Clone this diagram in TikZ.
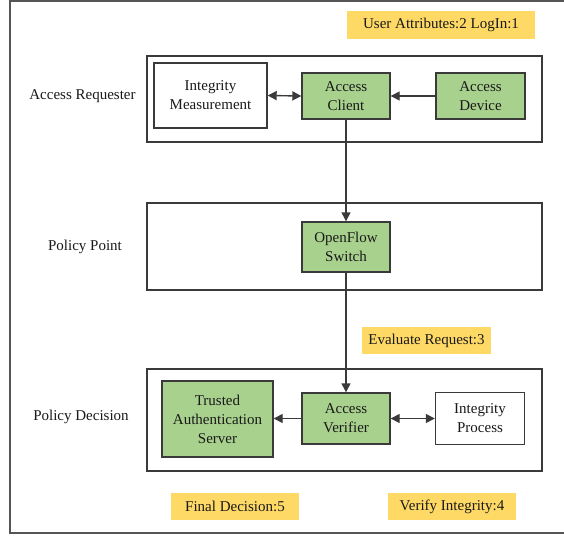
\documentclass[tikz,border=0pt]{standalone}
\usepackage{fontspec}
\setmainfont{Liberation Serif}
\usetikzlibrary{arrows.meta}
\definecolor{boxgreen}{HTML}{A9D18E}
\definecolor{noteyellow}{HTML}{FFD966}
\definecolor{edgegray}{HTML}{3A3A3A}
\definecolor{framegray}{HTML}{555555}
\begin{document}
\begin{tikzpicture}[x=1pt,y=-1pt,
  font=\fontsize{15}{19}\selectfont,
  panel/.style={draw=edgegray, line width=1.4pt, inner sep=0pt},
  unit/.style={draw=edgegray, line width=1.4pt, align=center, inner sep=0pt, text=black!90},
  greenunit/.style={unit, fill=boxgreen},
  note/.style={fill=noteyellow, inner sep=0pt, align=center, text=black!90},
  conn/.style={draw=edgegray, line width=1.4pt, -{Triangle[length=9pt,width=9pt]}},
  biconn/.style={draw=edgegray, line width=1.4pt, {Triangle[length=9pt,width=9pt]}-{Triangle[length=9pt,width=9pt]}},
  lbl/.style={inner sep=0pt, text=black!90}]
\useasboundingbox (0,0) rectangle (564,535);
\fill[white] (0,0) rectangle (564,535);
% outer frame
\draw[framegray, line width=2pt] (566,1.5) -- (10,1.5) -- (10,532.5) -- (566,532.5);

% panels
\node[panel, minimum width=395pt, minimum height=86pt] (reqpanel) at (344.5,99) {};
\node[panel, minimum width=395pt, minimum height=87pt] (pppanel) at (344.5,246.5) {};
\node[panel, minimum width=395pt, minimum height=102pt] (pdpanel) at (344.5,420) {};

% side labels
\node[lbl] (lreq) at (82.5,96) {Access Requester};
\node[lbl] (lpp) at (85,247) {Policy Point};
\node[lbl] (lpd) at (81,417) {Policy Decision};

% units
\node[unit, minimum width=113pt, minimum height=65pt] (im) at (210.5,95.5) {Integrity\\Measurement};
\node[greenunit, minimum width=88pt, minimum height=46pt] (ac) at (346,96) {Access\\Client};
\node[greenunit, minimum width=89pt, minimum height=46pt] (ad) at (480.5,96) {Access\\Device};
\node[greenunit, minimum width=88pt, minimum height=50pt] (of) at (346,247) {OpenFlow\\Switch};
\node[greenunit, minimum width=111pt, minimum height=76pt] (tas) at (217.5,419) {Trusted\\Authentication\\Server};
\node[greenunit, minimum width=88pt, minimum height=51pt] (av) at (346,418.5) {Access\\Verifier};
\node[unit, minimum width=89pt, minimum height=52pt] (ip) at (480,418.5) {Integrity\\Process};

% notes
\node[note, minimum width=188pt, minimum height=28pt] (n1) at (441,25) {User Attributes:2 LogIn:1};
\node[note, minimum width=129pt, minimum height=27pt] (n3) at (426.5,340.5) {Evaluate Request:3};
\node[note, minimum width=128pt, minimum height=27pt] (n5) at (235,506.5) {Final Decision:5};
\node[note, minimum width=128pt, minimum height=27pt] (n4) at (452,506.5) {Verify Integrity:4};

% connectors
\draw[biconn] (im.east) -- (ac.west);
\draw[conn] (ad.west) -- (ac.east);
\draw[conn] (ac.south) -- (of.north);
\draw[conn] (of.south) -- (av.north);
\draw[conn] (av.west) -- (av.west -| tas.east);
\draw[biconn] (av.east) -- (av.east -| ip.west);
\end{tikzpicture}
\end{document}
